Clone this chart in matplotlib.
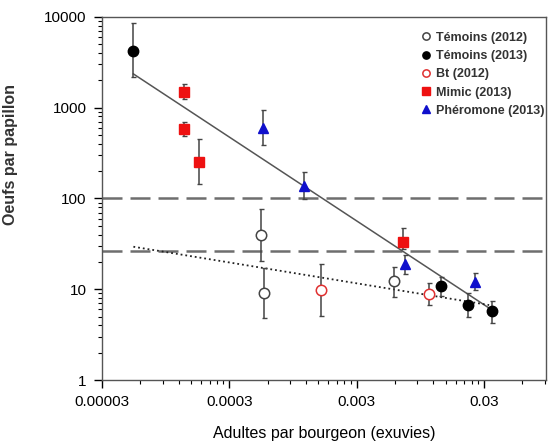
import matplotlib
matplotlib.use('Agg')
import matplotlib.pyplot as plt
from matplotlib.ticker import FixedLocator, NullFormatter, LogLocator

plt.rcParams['font.family'] = ['Liberation Sans', 'DejaVu Sans']

# data (x = adults per bud, y = eggs per moth)
tem12_x = [5.3e-4, 5.6e-4, 5.9e-3]
tem12_y = [39.6, 9.2, 12.2]
tem12_hi = [76, 17.3, 17.7]
tem12_lo = [20.6, 4.8, 8.3]

tem13_x = [5.3e-5, 0.0137, 0.0224, 0.0347]
tem13_y = [4250, 10.9, 6.7, 5.7]
tem13_hi = [8650, 13.5, 9.2, 7.5]
tem13_lo = [2160, 8.5, 4.9, 4.3]

bt12_x = [1.58e-3, 0.0111]
bt12_y = [9.7, 8.9]
bt12_hi = [18.8, 11.8]
bt12_lo = [5.1, 6.7]

mimic_x = [1.33e-4, 1.33e-4, 1.74e-4, 0.0070]
mimic_y = [1500, 583, 255, 33.2]
mimic_hi = [1810, 702, 456, 47.3]
mimic_lo = [1253, 484, 146, 28]

phero_x = [5.5e-4, 1.15e-3, 0.0072, 0.0257]
phero_y = [594, 138, 18.8, 12.0]
phero_hi = [944, 194, 24, 15.2]
phero_lo = [389, 99, 14.7, 9.7]

# regression lines (end points)
trend_x = [5.3e-5, 0.033]
solid_y = [2355, 6.2]
dotted_y = [29.4, 6.7]

# thresholds
seuils = [100, 26.6]

fig = plt.figure(figsize=(5.48, 4.45), dpi=100)
ax = fig.add_axes([0.186, 0.146, 0.81, 0.816])

for s in seuils:
    ax.axhline(s, color='#6e6e6e', lw=1.8, dashes=(8, 3.2), zorder=1)

ax.plot(trend_x, solid_y, '-', color='#555555', lw=1.1, zorder=2)
ax.plot(trend_x, dotted_y, ':', color='#222222', lw=1.3, zorder=2)

def serie(x, y, lo, hi, **kw):
    yerr = [[v - l for v, l in zip(y, lo)], [h - v for v, h in zip(y, hi)]]
    ax.errorbar(x, y, yerr=yerr, fmt='none', ecolor='#444444', elinewidth=1.1,
                capsize=1.8, capthick=1, zorder=3)
    ax.plot(x, y, linestyle='none', zorder=4, **kw)

serie(tem12_x, tem12_y, tem12_lo, tem12_hi, marker='o', ms=7.5, mfc='white', mec='#444444', mew=1.1,
      label='Témoins (2012)')
serie(tem13_x, tem13_y, tem13_lo, tem13_hi, marker='o', ms=7.5, mfc='black', mec='black',
      label='Témoins (2013)')
serie(bt12_x, bt12_y, bt12_lo, bt12_hi, marker='o', ms=7.5, mfc='white', mec='#e03030', mew=1.1,
      label='Bt (2012)')
serie(mimic_x, mimic_y, mimic_lo, mimic_hi, marker='s', ms=7.5, mfc='#ee1111', mec='#ee1111',
      label='Mimic (2013)')
serie(phero_x, phero_y, phero_lo, phero_hi, marker='^', ms=7.5, mfc='#1010cc', mec='#1010cc',
      label='Phéromone (2013)')

ax.set_xscale('log')
ax.set_yscale('log')
ax.set_xlim(3e-5, 0.092)
ax.set_ylim(1, 10000)

majors = [3e-5, 3e-4, 3e-3, 3e-2]
ax.xaxis.set_major_locator(FixedLocator(majors))
ax.set_xticklabels(['0.00003', '0.0003', '0.003', '0.03'])
minors = [m * k for m in majors for k in range(2, 10) if m * k <= 0.092]
ax.xaxis.set_minor_locator(FixedLocator(minors))
ax.xaxis.set_minor_formatter(NullFormatter())
ax.set_yticks([1, 10, 100, 1000, 10000])
ax.set_yticklabels(['1', '10', '100', '1000', '10000'])
ax.yaxis.set_minor_locator(LogLocator(base=10, subs=range(2, 10)))
ax.yaxis.set_minor_formatter(NullFormatter())

ax.tick_params(which='major', direction='out', length=6, width=1, labelsize=11, pad=5)
ax.tick_params(which='minor', direction='out', length=3, width=0.8)
for sp in ax.spines.values():
    sp.set_color('#555555')
    sp.set_linewidth(1)

ax.set_xlabel('Adultes par bourgeon (exuvies)', fontsize=11.5, labelpad=12)
ax.set_ylabel('Oeufs par papillon', fontsize=11.5, fontweight='bold', color='#333333')
ax.yaxis.set_label_coords(-0.19, 0.62)

leg = ax.legend(loc='upper left', bbox_to_anchor=(0.69, 0.99), frameon=False,
                prop={'size': 9, 'weight': 'bold'}, handletextpad=0.35, handlelength=1,
                labelspacing=0.5, markerscale=0.7)
for t in leg.get_texts():
    t.set_color('#333333')

fig.savefig('out.png', dpi=100)
